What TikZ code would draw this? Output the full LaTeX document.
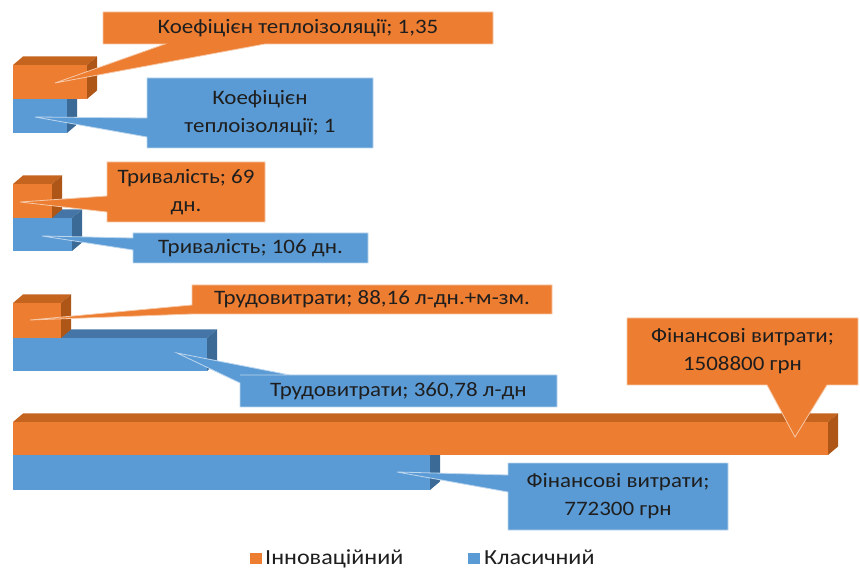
\documentclass[tikz,border=0pt]{standalone}
\usepackage{fontspec}
\setmainfont{Carlito}[FakeStretch=1.12]
\definecolor{ofront}{HTML}{ED7D31}
\definecolor{otop}{HTML}{C4641F}
\definecolor{oside}{HTML}{AE5618}
\definecolor{oline}{HTML}{F6C9A8}
\definecolor{bfront}{HTML}{5B9BD5}
\definecolor{btop}{HTML}{4475A6}
\definecolor{bside}{HTML}{3C6A97}
\definecolor{bline}{HTML}{BCD6EE}
\definecolor{txt}{HTML}{1E1E1E}
\newcommand\tbar[6]{%
  \fill[#5] (13,#2) -- (23,#2-8.5) -- (#1+10,#2-8.5) -- (#1,#2) -- cycle;
  \fill[#6] (#1,#2) -- (#1+10,#2-8.5) -- (#1+10,#3-8.5) -- (#1,#3) -- cycle;
  \fill[#4] (13,#2) rectangle (#1,#3);
}
\tikzset{
  lbl/.style={font=\fontsize{20.5}{28}\selectfont, text=txt, align=center, inner sep=0pt},
  ocall/.style={fill=ofront, draw=oline, line width=0.8pt, line join=miter},
  bcall/.style={fill=bfront, draw=bline, line width=0.8pt, line join=miter},
  legtxt/.style={font=\fontsize{21.5}{25}\selectfont, text=txt, inner sep=0pt, anchor=base west}
}
\begin{document}
\begin{tikzpicture}[x=1pt,y=-1pt]
\useasboundingbox (0,0) rectangle (860,569);
% tips of the callouts
\coordinate (p1o) at (55,83);
\coordinate (p1b) at (35,117);
\coordinate (p2o) at (20,202);
\coordinate (p2b) at (42,236);
\coordinate (p3o) at (30,320);
\coordinate (p3b) at (177,353);
\coordinate (p4o) at (795,437);
\coordinate (p4b) at (397,472);
% group 1
\tbar{67}{99}{133}{bfront}{btop}{bside}
\tbar{87}{65}{99}{ofront}{otop}{oside}
% group 2
\tbar{72}{218}{251}{bfront}{btop}{bside}
\tbar{52}{184}{218}{ofront}{otop}{oside}
% group 3
\tbar{207}{338}{371}{bfront}{btop}{bside}
\tbar{61}{303}{338}{ofront}{otop}{oside}
% group 4
\tbar{430}{455}{490}{bfront}{btop}{bside}
\tbar{828}{422}{455}{ofront}{otop}{oside}
% callouts
\draw[ocall] (103,12) -- (493,12) -- (493,44) -- (265,44) -- (p1o) -- (165,44) -- (103,44) -- cycle;
\draw[bcall] (147,78) -- (373,78) -- (373,148) -- (147,148) -- (147,137) -- (p1b) -- (147,118) -- cycle;
\draw[ocall] (107,162) -- (265,162) -- (265,222) -- (107,222) -- (107,212) -- (p2o) -- (107,196) -- cycle;
\draw[bcall] (133,233) -- (368,233) -- (368,263) -- (133,263) -- (133,250) -- (p2b) -- (133,238) -- cycle;
\draw[ocall] (192,285) -- (552,285) -- (552,314) -- (192,314) -- (p3o) -- (192,305) -- cycle;
\draw[bcall] (240,375) -- (557,375) -- (557,407) -- (240,407) -- (240,383) -- (p3b) -- (290,375) -- cycle;
\draw[ocall] (627,318) -- (858,318) -- (858,385) -- (827,385) -- (p4o) -- (767,385) -- (627,385) -- cycle;
\draw[bcall] (508,463) -- (728,463) -- (728,530) -- (508,530) -- (508,492) -- (p4b) -- (508,475) -- cycle;
% labels
\node[lbl] (t1o) at (298,28) {Коефіцієн теплоізоляції; 1,35};
\node[lbl] (t1b) at (260,113) {Коефіцієн\\теплоізоляції; 1};
\node[lbl] (t2o) at (186,192) {Тривалість; 69\\дн.};
\node[lbl] (t2b) at (250.5,248) {Тривалість; 106 дн.};
\node[lbl] (t3o) at (372,299.5) {Трудовитрати; 88,16 л-дн.+м-зм.};
\node[lbl] (t3b) at (398.5,391) {Трудовитрати; 360,78 л-дн};
\node[lbl] (t4o) at (742.5,351.5) {Фінансові витрати;\\1508800 грн};
\node[lbl] (t4b) at (618,496.5) {Фінансові витрати;\\772300 грн};
% legend
\fill[ofront] (250,553) rectangle (262,564);
\node[legtxt] (l1) at (265,564) {Інноваційний};
\fill[bfront] (468,553) rectangle (480,564);
\node[legtxt] (l2) at (484,564) {Класичний};
\end{tikzpicture}
\end{document}
